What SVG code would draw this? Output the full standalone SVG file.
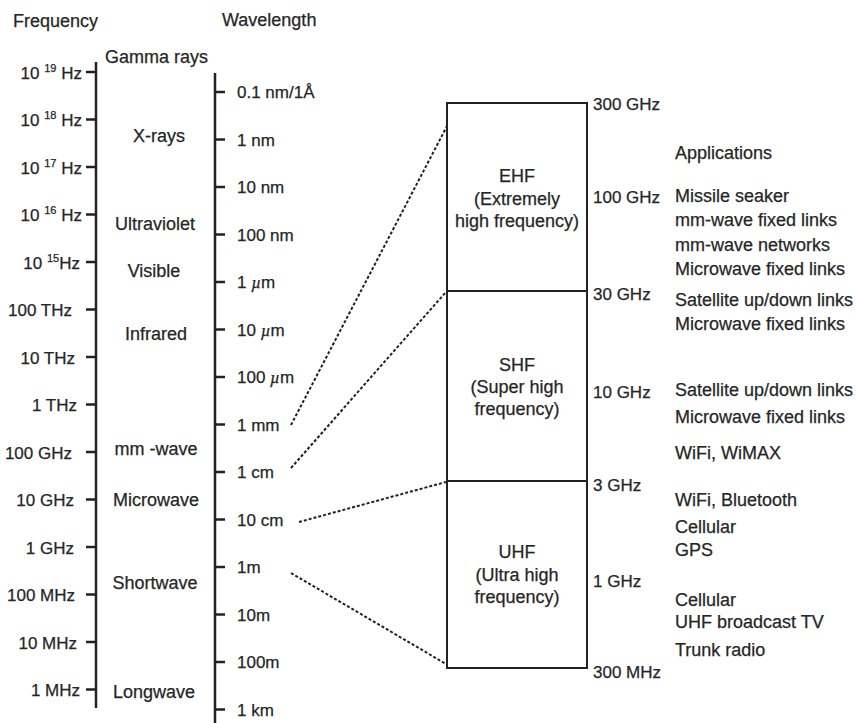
<svg xmlns="http://www.w3.org/2000/svg" width="856" height="723" viewBox="0 0 856 723">
<style>
text{font-family:"Liberation Sans",Arial,sans-serif;fill:#262626;stroke:#262626;stroke-width:0.25;font-size:17px}
.w{font-size:18px}
.m{text-anchor:middle}
.e{text-anchor:end}
.sup{font-size:11px}
.axis{stroke:#222;stroke-width:2.5;fill:none}
.tick{stroke:#222;stroke-width:2.5}
.box{fill:none;stroke:#222;stroke-width:2}
.dash{stroke:#222;stroke-width:2;stroke-dasharray:3 2;fill:none}
.mu{font-family:"Liberation Serif",serif;font-style:italic}
</style>
<rect width="856" height="723" fill="#fff"/>

<g id="frequency-axis">
<text x="13" y="27" class="w">Frequency</text>
<line class="axis" x1="96" y1="62" x2="96" y2="708"/>
<g class="tick">
<line x1="86" y1="72" x2="96" y2="72"/><line x1="86" y1="119.5" x2="96" y2="119.5"/><line x1="86" y1="167" x2="96" y2="167"/><line x1="86" y1="214.5" x2="96" y2="214.5"/><line x1="86" y1="262" x2="96" y2="262"/><line x1="86" y1="309.5" x2="96" y2="309.5"/><line x1="86" y1="357" x2="96" y2="357"/><line x1="86" y1="404.5" x2="96" y2="404.5"/><line x1="86" y1="452" x2="96" y2="452"/><line x1="86" y1="499.5" x2="96" y2="499.5"/><line x1="86" y1="547" x2="96" y2="547"/><line x1="86" y1="594.5" x2="96" y2="594.5"/><line x1="86" y1="642" x2="96" y2="642"/><line x1="86" y1="689.5" x2="96" y2="689.5"/>
</g>
<text x="82" y="79" class="e">10 <tspan class="sup" dy="-7">19</tspan><tspan dy="7"> Hz</tspan></text>
<text x="82" y="126" class="e">10 <tspan class="sup" dy="-7">18</tspan><tspan dy="7"> Hz</tspan></text>
<text x="82" y="174" class="e">10 <tspan class="sup" dy="-7">17</tspan><tspan dy="7"> Hz</tspan></text>
<text x="82" y="221" class="e">10 <tspan class="sup" dy="-7">16</tspan><tspan dy="7"> Hz</tspan></text>
<text x="80" y="269" class="e">10 <tspan class="sup" dy="-7">15</tspan><tspan dy="7">Hz</tspan></text>
<text x="72" y="316" class="e">100 THz</text>
<text x="75" y="364" class="e">10 THz</text>
<text x="77" y="411" class="e">1 THz</text>
<text x="72" y="459" class="e">100 GHz</text>
<text x="74" y="506" class="e">10 GHz</text>
<text x="74" y="554" class="e">1 GHz</text>
<text x="75" y="601" class="e">100 MHz</text>
<text x="77" y="649" class="e">10 MHz</text>
<text x="80" y="696" class="e">1 MHz</text>
</g>

<g id="bands">
<text x="105" y="63" class="w">Gamma rays</text>
<text x="159" y="142" class="w m">X-rays</text>
<text x="155" y="230" class="w m">Ultraviolet</text>
<text x="154" y="277" class="w m">Visible</text>
<text x="156" y="340" class="w m">Infrared</text>
<text x="156" y="455" class="w m">mm -wave</text>
<text x="156" y="506" class="w m">Microwave</text>
<text x="155" y="589" class="w m">Shortwave</text>
<text x="154" y="698" class="w m">Longwave</text>
</g>

<g id="wavelength-axis">
<text x="222" y="26" class="w">Wavelength</text>
<line class="axis" x1="215" y1="73" x2="215" y2="723"/>
<g class="tick">
<line x1="215" y1="92" x2="225" y2="92"/><line x1="215" y1="139.5" x2="225" y2="139.5"/><line x1="215" y1="187" x2="225" y2="187"/><line x1="215" y1="234.5" x2="225" y2="234.5"/><line x1="215" y1="282" x2="225" y2="282"/><line x1="215" y1="329.5" x2="225" y2="329.5"/><line x1="215" y1="377" x2="225" y2="377"/><line x1="215" y1="424.5" x2="225" y2="424.5"/><line x1="215" y1="472" x2="225" y2="472"/><line x1="215" y1="519.5" x2="225" y2="519.5"/><line x1="215" y1="567" x2="225" y2="567"/><line x1="215" y1="614.5" x2="225" y2="614.5"/><line x1="215" y1="662" x2="225" y2="662"/><line x1="215" y1="709.5" x2="225" y2="709.5"/>
</g>
<text x="237" y="98">0.1 nm/1Å</text>
<text x="237" y="146">1 nm</text>
<text x="237" y="193">10 nm</text>
<text x="237" y="241">100 nm</text>
<text x="237" y="288">1 <tspan class="mu">µ</tspan>m</text>
<text x="237" y="336">10 <tspan class="mu">µ</tspan>m</text>
<text x="237" y="383">100 <tspan class="mu">µ</tspan>m</text>
<text x="237" y="431">1 mm</text>
<text x="237" y="478">1 cm</text>
<text x="237" y="526">10 cm</text>
<text x="237" y="573">1m</text>
<text x="237" y="621">10m</text>
<text x="237" y="668">100m</text>
<text x="237" y="716">1 km</text>
</g>

<g id="connectors">
<line class="dash" x1="291" y1="425" x2="447" y2="126"/>
<line class="dash" x1="291" y1="468" x2="446" y2="292"/>
<line class="dash" x1="299" y1="522" x2="446" y2="482"/>
<line class="dash" x1="291" y1="573" x2="446" y2="664"/>
</g>

<g id="ehf">
<rect class="box" x="447" y="103" width="140" height="188"/>
<text x="517" y="182" class="w m">EHF</text>
<text x="517" y="205" class="w m">(Extremely</text>
<text x="517" y="227" class="w m">high frequency)</text>
</g>
<g id="shf">
<rect class="box" x="447" y="291" width="140" height="190"/>
<text x="517" y="371" class="w m">SHF</text>
<text x="517" y="393" class="w m">(Super high</text>
<text x="517" y="415" class="w m">frequency)</text>
</g>
<g id="uhf">
<rect class="box" x="447" y="481" width="140" height="187"/>
<text x="517" y="558" class="w m">UHF</text>
<text x="517" y="581" class="w m">(Ultra high</text>
<text x="517" y="603" class="w m">frequency)</text>
</g>

<g id="band-edges">
<text x="593" y="110">300 GHz</text>
<text x="593" y="203">100 GHz</text>
<text x="593" y="300">30 GHz</text>
<text x="593" y="398">10 GHz</text>
<text x="593" y="491">3 GHz</text>
<text x="593" y="587">1 GHz</text>
<text x="593" y="678">300 MHz</text>
</g>

<g id="applications">
<text x="675" y="159" class="w">Applications</text>
<text x="675" y="202" class="w">Missile seaker</text>
<text x="675" y="226" class="w">mm-wave fixed links</text>
<text x="675" y="251" class="w">mm-wave networks</text>
<text x="675" y="275" class="w">Microwave fixed links</text>
<text x="675" y="306" class="w">Satellite up/down links</text>
<text x="675" y="330" class="w">Microwave fixed links</text>
<text x="675" y="396" class="w">Satellite up/down links</text>
<text x="675" y="423" class="w">Microwave fixed links</text>
<text x="675" y="459" class="w">WiFi, WiMAX</text>
<text x="675" y="506" class="w">WiFi, Bluetooth</text>
<text x="675" y="533" class="w">Cellular</text>
<text x="675" y="556" class="w">GPS</text>
<text x="675" y="606" class="w">Cellular</text>
<text x="675" y="628" class="w">UHF broadcast TV</text>
<text x="675" y="656" class="w">Trunk radio</text>
</g>
</svg>
